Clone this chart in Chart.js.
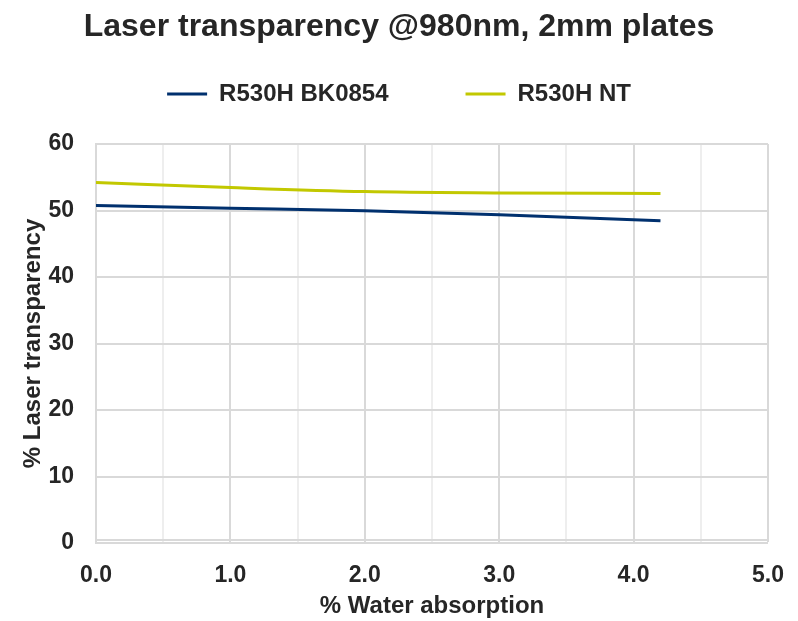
<!DOCTYPE html>
<html>
<head>
<meta charset="utf-8">
<script src="https://cdn.jsdelivr.net/npm/chart.js@4"></script>
<style>
  html, body { margin: 0; padding: 0; background: #fff; }
  #wrap { width: 798px; height: 621px; }
</style>
</head>
<body>
<div id="wrap"><canvas id="chart"></canvas></div>
<script>
// datos
const waterAbs = [0.0, 1.0, 2.0, 3.0, 4.2];
const bk0854 = [50.75, 50.35, 49.95, 49.35, 48.45];
const nt = [54.2, 53.45, 52.85, 52.65, 52.55];
const seriesNames = ['R530H BK0854', 'R530H NT'];
const seriesColors = ['#00306e', '#c2c800'];

const txt = '#262626';
const font = (size) => ({ family: 'Liberation Sans, Arial, sans-serif', size: size, weight: 'bold' });

const toPoints = (vals) => waterAbs.map((x, i) => ({ x: x, y: vals[i] }));

const serie = (i, vals) => ({
    label: seriesNames[i],
    data: toPoints(vals),
    borderColor: seriesColors[i],
    backgroundColor: seriesColors[i],
    borderWidth: 3,
    pointRadius: 0,
    tension: 0.4,
    cubicInterpolationMode: 'monotone'
});

new Chart(document.getElementById('chart'), {
    type: 'line',
    data: {
        datasets: [serie(0, bk0854), serie(1, nt)]
    },
    options: {
        responsive: true,
        maintainAspectRatio: false,
        animation: false,
        layout: { padding: { left: 30, right: 30, top: 8, bottom: 2 } },
        plugins: {
            title: {
                display: true,
                text: 'Laser transparency @980nm, 2mm plates',
                color: txt,
                font: font(32),
                padding: { top: 0, bottom: -41.4 }
            },
            // espacio vacio entre leyenda y grafico
            subtitle: {
                display: true,
                text: '',
                weight: 500,
                font: { size: 10 },
                padding: { top: 13, bottom: 0 }
            },
            legend: {
                position: 'top',
                labels: {
                    color: txt,
                    font: font(24),
                    boxWidth: 40,
                    boxHeight: 3,
                    padding: 77,
                    generateLabels: (chart) => Chart.defaults.plugins.legend.labels.generateLabels(chart)
                        .map(l => Object.assign(l, { lineWidth: 0 }))
                }
            },
            tooltip: { enabled: false }
        },
        scales: {
            x: {
                type: 'linear',
                min: 0,
                max: 5,
                afterFit: (s) => { s.height = 76; s.paddingLeft = 0; s.paddingRight = 0; },
                ticks: {
                    stepSize: 0.5,
                    color: txt,
                    font: font(23),
                    padding: 22,
                    maxRotation: 0,
                    autoSkip: false,
                    callback: (v) => Number.isInteger(v) ? v.toFixed(1) : ''
                },
                grid: {
                    drawTicks: false,
                    color: (c) => Number.isInteger(c.tick.value) ? '#d9d9d9' : '#eeeeee',
                    lineWidth: 2
                },
                border: { color: '#d9d9d9', width: 2 },
                title: {
                    display: true,
                    text: '% Water absorption',
                    color: txt,
                    font: font(24),
                    padding: { top: 0, bottom: -5 }
                }
            },
            y: {
                min: 0,
                max: 60,
                afterFit: (s) => { s.width = 66; s.paddingTop = 0; s.paddingBottom = 0; },
                ticks: {
                    stepSize: 10,
                    color: txt,
                    font: font(23),
                    padding: 22
                },
                grid: {
                    drawTicks: false,
                    color: '#d9d9d9',
                    lineWidth: 2
                },
                border: { color: '#d9d9d9', width: 2 },
                title: {
                    display: true,
                    text: '% Laser transparency',
                    color: txt,
                    font: font(24),
                    padding: { top: -11.4, bottom: 0 }
                }
            }
        }
    }
});
</script>
</body>
</html>
